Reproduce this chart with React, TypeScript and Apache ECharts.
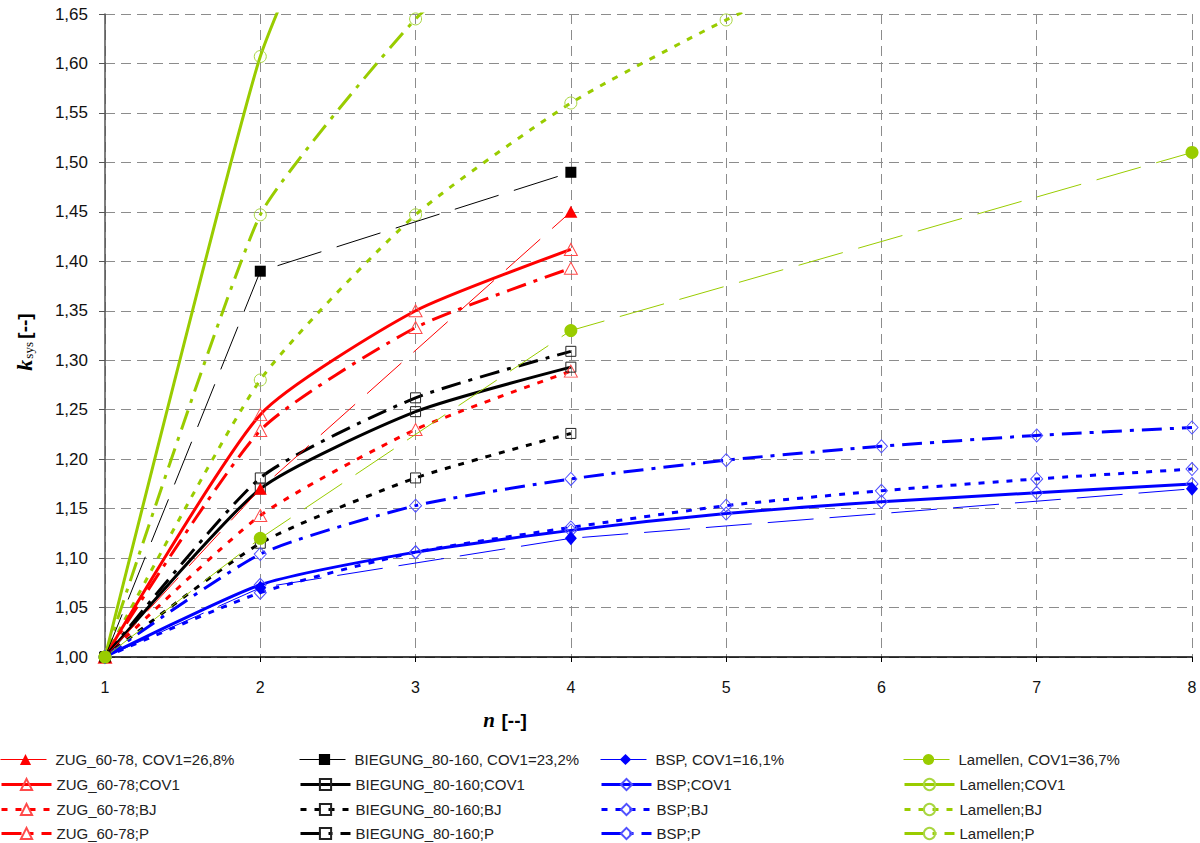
import React, { useEffect, useRef } from "react";
import * as echarts from "echarts";

// ---------- data ----------
const N4 = [1, 2, 3, 4];
const N8 = [1, 2, 3, 4, 5, 6, 7, 8];
const X_TICKS = [1, 2, 3, 4, 5, 6, 7, 8];

// measured (filled markers, thin long-dash lines)
const ZUG_N = [1, 2, 4];
const ZUG_MEAS = [1.0, 1.17, 1.45];
const BIEG_N = [1, 2, 4];
const BIEG_MEAS = [1.0, 1.39, 1.49];
const BSP_N = [1, 2, 4, 8];
const BSP_MEAS = [1.0, 1.07, 1.12, 1.17];
const LAM_N = [1, 2, 4, 8];
const LAM_MEAS = [1.0, 1.12, 1.33, 1.51];

// models (open markers, thick lines)
const ZUG_COV1 = [1.0, 1.245, 1.35, 1.412];
const ZUG_BJ = [1.0, 1.143, 1.23, 1.289];
const ZUG_P = [1.0, 1.229, 1.333, 1.393];

const BIEG_COV1 = [1.0, 1.17, 1.248, 1.293];
const BIEG_BJ = [1.0, 1.115, 1.181, 1.226];
const BIEG_P = [1.0, 1.181, 1.262, 1.309];

const BSP_COV1 = [1.0, 1.073, 1.106, 1.128, 1.145, 1.157, 1.166, 1.175];
const BSP_BJ = [1.0, 1.065, 1.106, 1.131, 1.153, 1.168, 1.18, 1.19];
const BSP_P = [1.0, 1.104, 1.153, 1.18, 1.199, 1.213, 1.224, 1.232];

const LAM_COV1 = [1.0, 1.607, 1.96, 2.12];
const LAM_BJ = [1.0, 1.28, 1.447, 1.56, 1.644, 1.715, 1.78, 1.84];
const LAM_P = [1.0, 1.447, 1.645, 1.78];

const NAMES = {
  zugM: "ZUG_60-78, COV1=26,8%",
  zugC: "ZUG_60-78;COV1",
  zugB: "ZUG_60-78;BJ",
  zugP: "ZUG_60-78;P",
  biegM: "BIEGUNG_80-160, COV1=23,2%",
  biegC: "BIEGUNG_80-160;COV1",
  biegB: "BIEGUNG_80-160;BJ",
  biegP: "BIEGUNG_80-160;P",
  bspM: "BSP, COV1=16,1%",
  bspC: "BSP;COV1",
  bspB: "BSP;BJ",
  bspP: "BSP;P",
  lamM: "Lamellen, COV1=36,7%",
  lamC: "Lamellen;COV1",
  lamB: "Lamellen;BJ",
  lamP: "Lamellen;P",
};

const LEGEND_COLUMNS = [
  [NAMES.zugM, NAMES.zugC, NAMES.zugB, NAMES.zugP],
  [NAMES.biegM, NAMES.biegC, NAMES.biegB, NAMES.biegP],
  [NAMES.bspM, NAMES.bspC, NAMES.bspB, NAMES.bspP],
  [NAMES.lamM, NAMES.lamC, NAMES.lamB, NAMES.lamP],
];
const LEGEND_X = [0, 299, 600, 903];
const LEGEND_Y = [752, 777, 802, 826];

const RED = "#ff0000";
const BLACK = "#000000";
const BLUE = "#0000ff";
const GREEN = "#99cc00";

const DASH_LONG: number[] = [46, 16];
const DASH_DOT: number[] = [6, 8];
const DASH_LDD: number[] = [20, 8, 4, 8];

const FONT = "'Liberation Sans', Arial, sans-serif";

function mk(
  name: string,
  xs: number[],
  ys: number[],
  color: string,
  width: number,
  type: any,
  symbol: string,
  symbolSize: any,
  filled: boolean,
  markerColor: string,
  smooth: boolean | number,
  z: number
) {
  return {
    name,
    type: "line",
    data: xs.map((x, i) => [x, ys[i]]),
    smooth,
    symbol,
    symbolSize,
    showSymbol: true,
    clip: true,
    z,
    lineStyle: { color, width, type },
    itemStyle: filled
      ? { color: markerColor, borderWidth: 0 }
      : { color: "rgba(255,255,255,0)", borderColor: markerColor, borderWidth: 1 },
    emphasis: { disabled: true },
  };
}

const SM = 0.2;

export default function App() {
  const ref = useRef<HTMLDivElement>(null);
  useEffect(() => {
    if (!ref.current) return;
    const chart = echarts.init(ref.current, null, { renderer: "svg" });
    const series = [
      mk(NAMES.lamC, N4, LAM_COV1, GREEN, 3, "solid", "circle", 12, false, "#a8d640", 0.12, 2),
      mk(NAMES.lamB, N8, LAM_BJ, GREEN, 3, DASH_DOT, "circle", 12, false, "#a8d640", SM, 2),
      mk(NAMES.lamP, N4, LAM_P, GREEN, 3, DASH_LDD, "circle", 12, false, "#a8d640", 0.15, 2),
      mk(NAMES.zugC, N4, ZUG_COV1, RED, 3, "solid", "triangle", [13, 12], false, "#ff4a4a", SM, 3),
      mk(NAMES.zugB, N4, ZUG_BJ, RED, 3, DASH_DOT, "triangle", [13, 12], false, "#ff4a4a", SM, 3),
      mk(NAMES.zugP, N4, ZUG_P, RED, 3, DASH_LDD, "triangle", [13, 12], false, "#ff4a4a", SM, 3),
      mk(NAMES.biegC, N4, BIEG_COV1, BLACK, 3, "solid", "rect", 10, false, "#222", SM, 3),
      mk(NAMES.biegB, N4, BIEG_BJ, BLACK, 3, DASH_DOT, "rect", 10, false, "#222", SM, 3),
      mk(NAMES.biegP, N4, BIEG_P, BLACK, 3, DASH_LDD, "rect", 10, false, "#222", SM, 3),
      mk(NAMES.bspC, N8, BSP_COV1, BLUE, 3, "solid", "diamond", [12, 13], false, "#5050ff", SM, 3),
      mk(NAMES.bspB, N8, BSP_BJ, BLUE, 3, DASH_DOT, "diamond", [12, 13], false, "#5050ff", SM, 3),
      mk(NAMES.bspP, N8, BSP_P, BLUE, 3, DASH_LDD, "diamond", [12, 13], false, "#5050ff", SM, 3),
      mk(NAMES.zugM, ZUG_N, ZUG_MEAS, RED, 1, DASH_LONG, "triangle", [13, 12], true, RED, false, 5),
      mk(NAMES.biegM, BIEG_N, BIEG_MEAS, BLACK, 1, DASH_LONG, "rect", 11, true, BLACK, false, 5),
      mk(NAMES.bspM, BSP_N, BSP_MEAS, BLUE, 1, DASH_LONG, "diamond", [12, 14], true, BLUE, false, 5),
      mk(NAMES.lamM, LAM_N, LAM_MEAS, GREEN, 1, DASH_LONG, "circle", 13, true, GREEN, false, 5),
    ];

    const legends: any[] = [];
    LEGEND_COLUMNS.forEach((col, ci) => {
      col.forEach((nm, ri) => {
        legends.push({
          orient: "horizontal",
          left: LEGEND_X[ci],
          top: LEGEND_Y[ri],
          padding: 0,
          itemWidth: 50,
          itemHeight: 14,
          selectedMode: false,
          data: [nm],
          textStyle: { fontSize: 15, fontFamily: FONT, color: "#222" },
          lineStyle: { width: "inherit", type: "inherit" },
        });
      });
    });

    chart.setOption({
      animation: false,
      backgroundColor: "#ffffff",
      grid: { left: 105, right: 8, top: 14, bottom: 186, containLabel: false },
      xAxis: {
        type: "value",
        min: X_TICKS[0],
        max: X_TICKS[X_TICKS.length - 1],
        interval: 1,
        axisLine: { show: true, onZero: false, lineStyle: { color: "#000", width: 1.5 } },
        axisTick: { show: true, length: 5, lineStyle: { color: "#000" } },
        axisLabel: { fontSize: 16, fontFamily: FONT, color: "#111", margin: 22 },
        splitLine: { show: true, lineStyle: { color: "#8c8c8c", type: [10, 6], width: 1 } },
      },
      yAxis: {
        type: "value",
        min: 1.0,
        max: 1.65,
        interval: 0.05,
        axisLine: { show: true, onZero: false, lineStyle: { color: "#555", width: 1.5 } },
        axisTick: { show: true, length: 6, lineStyle: { color: "#555" } },
        axisLabel: {
          fontSize: 17,
          fontFamily: FONT,
          color: "#111",
          margin: 17,
          formatter: (v: number) => v.toFixed(2).replace(".", ","),
        },
        splitLine: { show: true, lineStyle: { color: "#8c8c8c", type: [10, 6], width: 1 } },
      },
      legend: legends,
      graphic: [
        {
          type: "text",
          x: 505,
          y: 720,
          style: {
            text: "{n|n}  {b|[--]}",
            align: "center",
            verticalAlign: "middle",
            rich: {
              n: { fontFamily: "'Liberation Serif', serif", fontStyle: "italic", fontWeight: "bold", fontSize: 21, fill: "#000" },
              b: { fontFamily: FONT, fontWeight: "bold", fontSize: 19, fill: "#000" },
            },
          },
        },
        {
          type: "text",
          x: 24,
          y: 342,
          rotation: Math.PI / 2,
          style: {
            text: "{k|k}{s|sys} {b|[--]}",
            align: "center",
            verticalAlign: "middle",
            rich: {
              k: { fontFamily: "'Liberation Serif', serif", fontStyle: "italic", fontWeight: "bold", fontSize: 22, fill: "#000" },
              s: { fontFamily: "'Liberation Serif', serif", fontSize: 13, fill: "#000", verticalAlign: "bottom", padding: [6, 0, 0, 1] },
              b: { fontFamily: FONT, fontWeight: "bold", fontSize: 19, fill: "#000" },
            },
          },
        },
      ],
      series,
    });
    return () => chart.dispose();
  }, []);
  return (
    <div
      ref={ref}
      style={{ position: "absolute", left: 0, top: 0, width: 1200, height: 843, background: "#fff" }}
    />
  );
}
